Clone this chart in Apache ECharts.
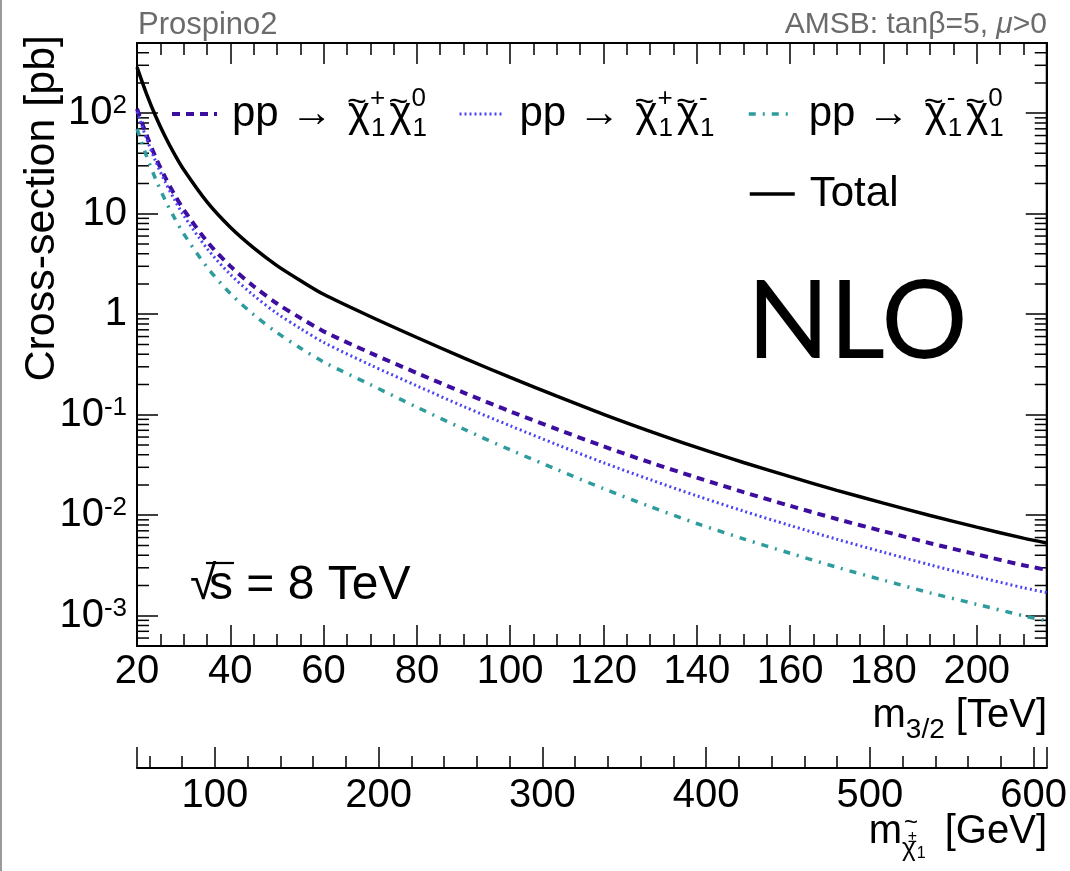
<!DOCTYPE html>
<html><head><meta charset="utf-8">
<script src="https://cdn.jsdelivr.net/npm/echarts@6/dist/echarts.min.js"></script>
<style>html,body{margin:0;padding:0;background:#fff}#c{width:1070px;height:871px}</style>
</head><body><div id="c"></div>
<script>
// m_{3/2} [TeV]
const mGravitino = [20,22,24,26,28,30,35,40,45,50,55,60,70,80,90,100,110,120,130,140,150,160,170,180,190,200,210,215];
// cross-sections [pb]
const sigmaTotal = [288,158,93.3,59,39.4,27.5,13.1,7.33,4.57,3.05,2.17,1.58,0.95,0.587,0.368,0.235,0.153,0.101,0.0684,0.0473,0.0335,0.0242,0.0177,0.0132,0.00995,0.00762,0.00592,0.0053];
const sigmaC1pN1 = [110.9,61.3,36.4,23.2,15.6,11.0,5.31,3.01,1.90,1.28,0.920,0.676,0.413,0.26,0.166,0.108,0.0719,0.0485,0.0335,0.0237,0.0170,0.0124,0.00917,0.00693,0.00527,0.00408,0.00318,0.00286];
const sigmaC1pC1m = [103.7,56.6,33.2,20.9,13.9,9.63,4.52,2.49,1.54,1.02,0.723,0.525,0.3135,0.194,0.121,0.0776,0.0505,0.0333,0.0226,0.0156,0.0110,0.00791,0.00577,0.00429,0.00321,0.00245,0.0019,0.0017];
const sigmaC1mN1 = [70.0,37.9,22.1,13.8,9.14,6.33,2.95,1.61,0.992,0.656,0.462,0.335,0.1995,0.119,0.0721,0.0447,0.0285,0.0184,0.0122,0.00828,0.00583,0.00419,0.00304,0.00226,0.00169,0.0013,0.001,0.00089];
// y tick labels (log axis)
const yTickExponents = [-3,-2,-1,0,1,2];
const yTickLabels = ['10{s|-3}','10{s|-2}','10{s|-1}','1','10','10{s|2}'];
// legend labels
const legendNames = ['c1pn1','c1pc1m','c1mn1','total'];
const legendTexts = [
  'pp → {t|~}{x|χ}{sp|+}{sb|1}{t|~}{x|χ}{sp|0}{sb|1}',
  'pp → {t|~}{x|χ}{sp|+}{sb|1}{t|~}{x|χ}{sp|-}{sb|1}',
  'pp → {t|~}{x|χ}{sp|-}{sb|1}{t|~}{x|χ}{sp|0}{sb|1}',
  'Total'
];

const FF = '"Liberation Sans", Arial, Helvetica, sans-serif';
const pairs = arr => mGravitino.map((m, i) => [m, arr[i]]);

const yMinor = [];
for (let e = -4; e <= 2; e++) for (let k = 2; k <= 9; k++) {
  const v = k * Math.pow(10, e);
  if (v > 5e-4 * 1.0001 && v < 500) yMinor.push([20, v]);
}

const legendRich = {
  t: {fontSize: 34, fontFamily: FF, color: '#000', lineHeight: 20, verticalAlign: 'top', width: 1, padding: [0, 0, 0, 3]},
  x: {fontSize: 42, fontFamily: FF, color: '#000', lineHeight: 56, verticalAlign: 'middle'},
  sp: {fontSize: 26, fontFamily: FF, color: '#000', lineHeight: 28, verticalAlign: 'top', width: 1},
  sb: {fontSize: 26, fontFamily: FF, color: '#000', lineHeight: 28, verticalAlign: 'bottom'}
};
const legendLineWidths = [4, 3, 3.5, 3.5];
function makeLegend(i, left, top) {
  return {
    data: [legendNames[i]], left: left, top: top, padding: 0, itemGap: 0,
    itemWidth: 45, itemHeight: 14, selectedMode: false,
    itemStyle: {opacity: 0},
    lineStyle: {width: legendLineWidths[i]},
    formatter: () => legendTexts[i],
    textStyle: {fontSize: 42, fontFamily: FF, color: '#000', lineHeight: 56, padding: [0, 0, 0, 10], rich: legendRich}
  };
}

const tickCommon = {show: true, inside: true, length: 21, lineStyle: {color: '#000', width: 1.5}};
const minorCommon = {show: true, length: 12, lineStyle: {color: '#000', width: 1.5}};
const lineCommon = {show: true, onZero: false, lineStyle: {color: '#000', width: 2}};

const option = {
  backgroundColor: '#fff',
  animation: false,
  grid: {left: 137, right: 23, top: 43, bottom: 225, show: true, borderColor: '#000', borderWidth: 2, containLabel: false},
  legend: [makeLegend(0, 170, 86), makeLegend(1, 458, 86), makeLegend(2, 747, 86), makeLegend(3, 748, 166)],
  xAxis: [
    {type: 'value', position: 'bottom', min: 20, max: 215, interval: 20,
     axisLine: lineCommon, axisTick: tickCommon, minorTick: Object.assign({splitNumber: 4}, minorCommon),
     splitLine: {show: false}, minorSplitLine: {show: false},
     axisLabel: {show: true, margin: 6, fontSize: 40, fontFamily: FF, color: '#000', showMaxLabel: false}},
    {type: 'value', position: 'bottom', offset: 122, min: 52.4, max: 608, minInterval: 100, maxInterval: 100,
     axisLine: lineCommon, axisTick: tickCommon, minorTick: Object.assign({splitNumber: 5}, minorCommon),
     splitLine: {show: false},
     axisLabel: {show: true, margin: 8, fontSize: 40, fontFamily: FF, color: '#000', showMinLabel: false, showMaxLabel: false}},
    {type: 'value', position: 'top', min: 20, max: 215, interval: 20,
     axisLine: lineCommon, axisTick: tickCommon, minorTick: Object.assign({splitNumber: 4}, minorCommon),
     splitLine: {show: false}, axisLabel: {show: false}}
  ],
  yAxis: [
    {type: 'log', logBase: 10, position: 'left', min: 5e-4, max: 500,
     axisLine: lineCommon, axisTick: tickCommon, splitLine: {show: false},
     axisLabel: {show: true, margin: 10, showMinLabel: false, showMaxLabel: false,
       fontSize: 40, fontFamily: FF, color: '#000', lineHeight: 40,
       formatter: v => { const e = Math.round(Math.log10(v)); const i = yTickExponents.indexOf(e); return i >= 0 && Math.abs(Math.log10(v) - e) < 1e-6 ? yTickLabels[i] : ''; },
       rich: {s: {fontSize: 26, fontFamily: FF, color: '#000', lineHeight: 29, verticalAlign: 'top'}}}},
    {type: 'log', logBase: 10, position: 'right', min: 5e-4, max: 500,
     axisLine: lineCommon, axisTick: tickCommon, splitLine: {show: false}, axisLabel: {show: false}}
  ],
  series: [
    {name: 'total', type: 'line', data: pairs(sigmaTotal), symbol: 'none', smooth: 0.3, z: 5,
     lineStyle: {color: '#000', width: 3.5, type: 'solid'}, itemStyle: {color: '#000'}},
    {name: 'c1pn1', type: 'line', data: pairs(sigmaC1pN1), symbol: 'none', smooth: 0.3, z: 4,
     lineStyle: {color: '#3c0d9e', width: 4, type: [8, 6]}, itemStyle: {color: '#3c0d9e'}},
    {name: 'c1pc1m', type: 'line', data: pairs(sigmaC1pC1m), symbol: 'none', smooth: 0.3, z: 4,
     lineStyle: {color: '#4c44f2', width: 3, type: [2, 3]}, itemStyle: {color: '#4c44f2'}},
    {name: 'c1mn1', type: 'line', data: pairs(sigmaC1mN1), symbol: 'none', smooth: 0.3, z: 4,
     lineStyle: {color: '#2e9c9c', width: 3.5, type: [7, 7, 2, 7]}, itemStyle: {color: '#2e9c9c'}},
    {name: 'minorY', type: 'custom', data: yMinor, silent: true, z: 3,
     renderItem: (params, api) => {
       const v = api.value(1);
       const pl = api.coord([20, v]);
       const pr = api.coord([215, v]);
       return {type: 'group', children: [
         {type: 'line', shape: {x1: pl[0], y1: pl[1], x2: pl[0] + 12, y2: pl[1]}, style: {stroke: '#000', lineWidth: 1.5}},
         {type: 'line', shape: {x1: pr[0], y1: pr[1], x2: pr[0] - 12, y2: pr[1]}, style: {stroke: '#000', lineWidth: 1.5}}
       ]};
     }}
  ],
  graphic: [
    {type: 'rect', shape: {x: 0, y: 0, width: 2, height: 871}, style: {fill: '#9a9a9a'}, silent: true},
    {type: 'text', x: 138, y: 25, style: {text: 'Prospino2', fontSize: 31, fontFamily: FF, fill: '#6b6b6b', align: 'left', verticalAlign: 'middle'}},
    {type: 'text', x: 1047, y: 25, style: {text: 'AMSB: tanβ=5, {i|μ}>0', fontSize: 30, fontFamily: FF, fill: '#6b6b6b', align: 'right', verticalAlign: 'middle',
      rich: {i: {fontSize: 30, fontFamily: FF, fontStyle: 'italic', fill: '#6b6b6b'}}}},
    {type: 'text', x: 747, y: 323, style: {text: 'NLO', fontSize: 108, fontFamily: 'Lato, "Open Sans", sans-serif', fill: '#000', align: 'left', verticalAlign: 'middle'}},
    {type: 'text', x: 190, y: 586, style: {text: '{r|√}s = 8 TeV', fontSize: 48, fontFamily: FF, fill: '#000', align: 'left', verticalAlign: 'middle',
      rich: {r: {fontSize: 48, fontFamily: FF, fill: '#000', width: 19}}}},
    {type: 'line', shape: {x1: 206, y1: 563, x2: 234, y2: 563}, style: {stroke: '#000', lineWidth: 2.2}, silent: true},
    {type: 'text', x: 42, y: 35, rotation: Math.PI / 2, style: {text: 'Cross-section [pb]', fontSize: 43, fontFamily: FF, fill: '#000', align: 'right', verticalAlign: 'middle'}},
    {type: 'text', x: 1047, y: 716, style: {text: 'm{s|3/2} [TeV]', fontSize: 40, fontFamily: FF, fill: '#000', align: 'right', verticalAlign: 'middle', lineHeight: 56,
      rich: {s: {fontSize: 28, fontFamily: FF, fill: '#000', lineHeight: 30, verticalAlign: 'bottom'}}}},
    {type: 'text', x: 1047, y: 832, style: {text: 'm{c|χ}{p|±}{o|1} [GeV]', fontSize: 40, fontFamily: FF, fill: '#000', align: 'right', verticalAlign: 'middle', lineHeight: 60,
      rich: {c: {fontSize: 26, fontFamily: FF, fill: '#000', lineHeight: 38, verticalAlign: 'bottom'},
             p: {fontSize: 16, fontFamily: FF, fill: '#000', lineHeight: 16, verticalAlign: 'middle', padding: [12, 0, 0, 0], width: 1},
             o: {fontSize: 16, fontFamily: FF, fill: '#000', lineHeight: 14, verticalAlign: 'bottom', padding: [0, 8, 0, 0]}}}},
    {type: 'text', x: 911, y: 823, style: {text: '~', fontSize: 24, fontFamily: FF, fill: '#000', align: 'center', verticalAlign: 'middle'}}
  ]
};
const chart = echarts.init(document.getElementById('c'), null, {renderer: 'canvas'});
chart.setOption(option);
</script></body></html>
